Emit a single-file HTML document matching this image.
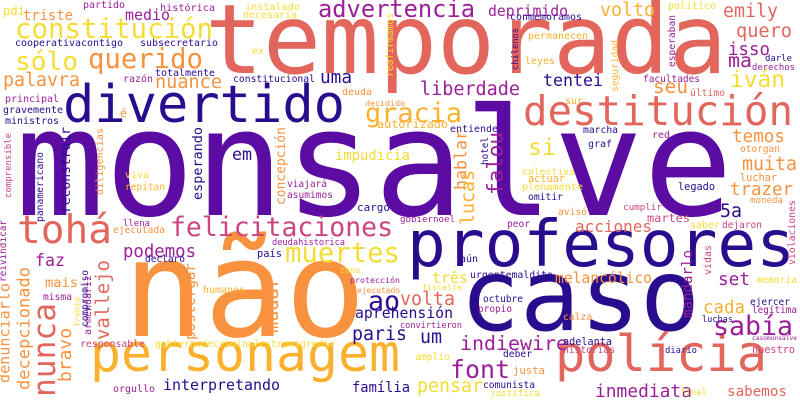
<!DOCTYPE html>
<html><head><meta charset="utf-8"><style>
html,body{margin:0;padding:0;background:#fff}
svg{display:block}
text{font-family:"DejaVu Sans Mono","Liberation Mono",monospace}
</style></head><body>
<svg id="cloud" width="800" height="400" viewBox="0 0 800 400" xmlns="http://www.w3.org/2000/svg">
<rect width="800" height="400" fill="#fff"/>
</svg>
<script>
const words = ["monsalve","temporada","caso","não","profesores","personagem","divertido","destitución","polícia","felicitaciones","tohá","constitución","sólo","querido","advertencia","muertes","font","nunca","sabía","gracia","liberdade","iván","emily","si","muita","trazer","podemos","faz","vallejo","decepcionado","denunciarlo","bravo","mudar","postergar","reivindicar","compromiso","frente","volta","aprehensión","paris","um","indiewire","pensar","família","interpretando","cada","set","mandarlo","acciones","inmediata","sabemos","quero","isso","ma","seu","tentei","deprimido","volto","medio","triste","palavra","nuance","uma","em","impudicia","esperando","concepción","falou","hablar","lucas","temos","5a","três","melancólico","ao","mais","toha",
"partido","histórica","instalado","necesaria","cooperativacontigo","subsecretario","ex","totalmente","razón","constitucional","principal","deuda","decidido","gravemente","ministros","é","viva","repitan","viajará","asumimos","conmemoramos","político","permanecen","leyes","facultades","último","darle","derechos","sur","autorizado","entiende","marcha","red","graf","otorgan","colectiva","actuar","plenamente","omitir","luchar","legado","moneda","llena","ejecutada","cargo","deudahistorica","país","declaró","humanos","protección","ejecutado","misma","responsable","gobiernodecriminalestransgredir","orgullo","gobiernoel","avisó","cumplir","peor","martes","saber","dejaron","aún","urgentemaldito","memoria","fiscalía","octubre","propio","ejercer","legítima","luchas","calza","convirtieron","casomonsalve","adelanta","historias","diario","nuestro","amplio","deber","justa","comunista","justifica","final","pdi",
"diligencias","comprensible","panamericano","reconstruir","chilenos","seguridad","esperaban","reafirmamos","hotel","violaciones","vidas","armendariz"];
const colorKeys = ["P","R","D","O","D","Y","D","R","R","K","R","L","L","O","M","L","M","R","M","Y","M","L","R","L","O","O","M","M","R","O","O","O","O","O","M","D","L","R","D","D","D","M","L","D","D","Y","M","M","R","M","R","R","M","M","O","D","M","Y","M","O","O","O","D","D","L","D","O","M","O","Y","O","D","L","O","D","O","L",
"M","M","L","L","D","D","L","D","M","D","M","O","O","D","D","O","L","Y","M","M","D","L","Y","Y","M","R","D","M","Y","Y","D","D","M","D","O","L","Y","L","D","O","D","O","M","O","D","M","D","D","Y","M","O","M","K","L","M","M","O","K","M","K","L","K","D","D","L","L","D","M","D","M","D","O","M","M","D","K","D","K","L","D","O","D","L","L","L",
"O","K","D","D","D","Y","M","L","D","K","K","M"];
const palette = {D:"#2a0c8e",P:"#5c0ba3",M:"#9b1f98",K:"#cc4580",R:"#e2665c",O:"#f8923f",Y:"#fcb12e",L:"#f4dd36"};
// [x, baseline y, width, rotated]; rotated: x = right edge, y = bottom, width = vertical length
const layout = [
[15,215,718,0],[205,73,522,0],[460,330,240,0],[123,336,243,0],[407,266,388,0],[90,371,310,0],[63,122,282,0],[523,125,270,0],[555,371,212,0],[170,236,223,0],[17,243,95,0],[15,38,198,0],[15,70,63,0],[88,68,115,0],[318,17,157,0],[285,262,115,0],[450,378,60,0],[62,397,94,1],[713,335,80,0],[365,122,97,0],[420,95,100,0],[730,87,55,0],[723,17,55,0],[528,155,28,0],[742,170,55,0],[730,195,63,0],[123,257,73,0],[35,266,30,0],[113,340,80,1],[33,390,123,1],[13,383,100,1],[75,382,54,1],[282,333,56,1],[198,340,77,1],[8,282,62,1],[90,327,57,1],[82,327,30,1],[400,305,55,0],[355,318,98,0],[352,340,55,0],[420,343,22,0],[460,350,108,0],[417,392,66,0],[352,392,58,0],[163,390,117,0],[703,313,42,0],[718,285,32,0],[695,318,68,1],[575,232,77,0],[595,397,97,0],[727,396,60,0],[736,37,56,0],[728,55,42,0],[728,67,24,0],[653,93,35,0],[543,86,60,0],[488,16,80,0],[600,16,55,0],[125,20,45,0],[23,20,50,0],[3,86,77,0],[155,88,67,0],[320,83,32,0],[232,160,20,0],[335,160,75,0],[205,200,73,1],[288,205,78,1],[507,195,63,1],[470,190,60,1],[478,225,55,1],[732,142,53,0],[720,217,22,0],[432,283,36,0],[555,283,97,0],[368,310,32,0],[45,287,33,0],[340,273,20,0],
[83,8,42,0],[160,11,55,0],[245,10,55,0],[243,18,54,0],[15,46,108,0],[140,46,78,0],[252,54,12,0],[155,76,60,0],[123,82,30,0],[233,82,82,0],[5,102,54,0],[342,95,30,0],[365,106,40,0],[3,113,60,0],[5,124,54,0],[120,117,7,0],[125,178,24,0],[125,190,40,0],[287,187,40,0],[287,198,46,0],[510,20,72,0],[668,9,48,0],[528,39,60,0],[525,64,30,0],[643,82,57,0],[690,96,35,0],[765,61,27,0],[752,70,43,0],[565,104,18,0],[377,128,71,0],[450,132,48,0],[583,133,35,0],[652,138,18,0],[588,147,24,0],[740,152,40,0],[522,175,53,0],[528,182,37,0],[522,190,61,0],[528,200,35,0],[740,181,37,0],[678,190,37,0],[750,203,33,0],[123,226,27,0],[113,233,52,0],[357,211,33,0],[272,245,73,0],[257,257,25,0],[145,262,40,0],[203,293,42,0],[350,283,50,0],[357,293,43,0],[43,300,29,0],[80,347,65,0],[155,347,180,0],[113,392,42,0],[400,222,55,0],[558,215,29,0],[623,210,39,0],[507,227,23,0],[647,222,43,0],[690,228,30,0],[722,228,40,0],[460,262,18,0],[470,278,83,0],[757,283,40,0],[422,290,40,0],[483,302,40,0],[478,312,34,0],[750,305,40,0],[752,313,45,0],[702,322,31,0],[563,320,29,0],[400,328,62,0],[752,340,45,0],[563,345,49,0],[563,353,52,0],[665,353,32,0],[752,353,43,0],[415,360,35,0],[503,357,29,0],[513,374,32,0],[483,388,52,0],[490,396,50,0],[680,395,27,0],[3,15,22,0],
[105,195,67,1],[13,198,65,1],[45,222,70,1],[73,213,86,1],[520,70,42,1],[620,92,52,1],[677,67,52,1],[395,77,64,1],[490,165,28,1],[797,265,65,1],[713,275,30,1],[93,335,60,1]
];
const svg = document.getElementById('cloud');
const NS = 'http://www.w3.org/2000/svg';
words.forEach((w, i) => {
  const L = layout[i]; if (!L) return;
  const n = Array.from(w).length;
  const fs = L[2] / (n * 0.602);
  const t = document.createElementNS(NS, 'text');
  t.textContent = w;
  t.setAttribute('font-size', fs.toFixed(2));
  t.setAttribute('fill', palette[colorKeys[i]] || '#9b1f98');
  t.setAttribute('textLength', L[2]);
  t.setAttribute('lengthAdjust', 'spacingAndGlyphs');
  if (L[3]) { t.setAttribute('transform', 'translate(' + (L[0] - fs * 0.22) + ',' + L[1] + ') rotate(-90)'); }
  else { t.setAttribute('x', L[0]); t.setAttribute('y', L[1]); }
  
  
  svg.appendChild(t);
});
</script>
</body></html>
